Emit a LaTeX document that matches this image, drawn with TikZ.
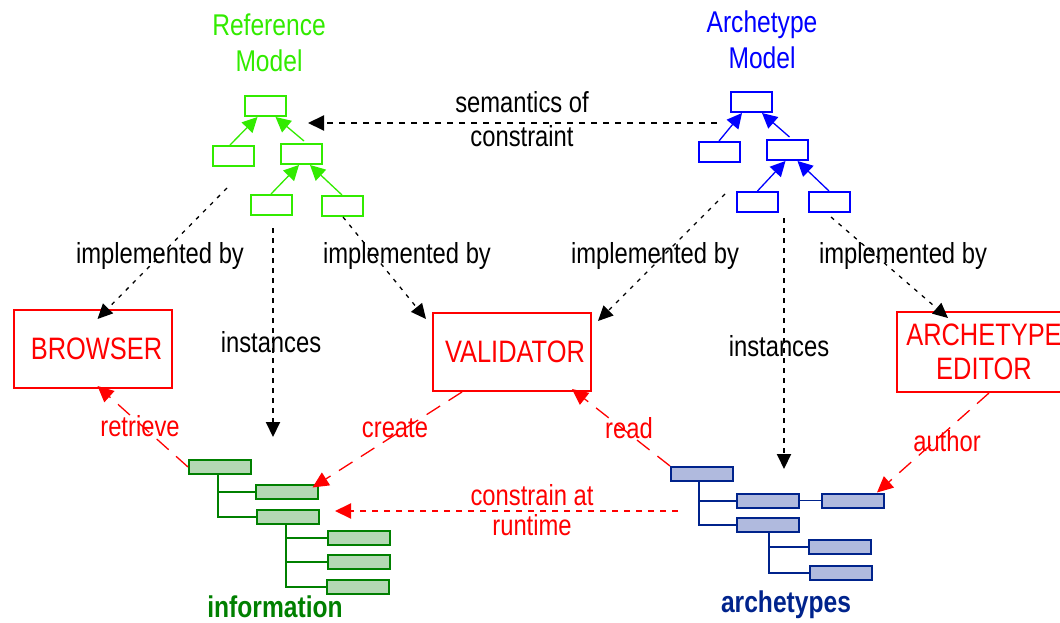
\documentclass[tikz,border=0pt]{standalone}
\usepackage{fontspec}
\setmainfont[FakeStretch=0.82]{Liberation Sans}
\usetikzlibrary{arrows.meta}
\definecolor{refgreen}{RGB}{50,235,0}
\definecolor{archblue}{RGB}{0,0,255}
\definecolor{toolred}{RGB}{255,0,0}
\definecolor{infogreen}{RGB}{0,128,0}
\definecolor{infofill}{RGB}{180,216,180}
\definecolor{archnavy}{RGB}{0,35,140}
\definecolor{archfill}{RGB}{176,186,222}
\begin{document}
\begin{tikzpicture}[x=1pt,y=-1pt,
  lbl/.style={font=\fontsize{29}{34}\selectfont, inner sep=0pt, align=center},
  title/.style={font=\fontsize{30}{36}\selectfont, inner sep=0pt, align=center},
  modelbox/.style={draw, line width=2pt, minimum width=41pt, minimum height=20pt, inner sep=0pt},
  rbox/.style={modelbox, draw=refgreen},
  abox/.style={modelbox, draw=archblue},
  inherit/.style={line width=1.3pt, -{Triangle[length=15pt,width=15pt]}},
  tool/.style={draw=toolred, line width=2pt, minimum width=158pt, minimum height=78pt,
    text=toolred, font=\fontsize{31}{34.5}\selectfont, align=center, inner sep=0pt},
  impl/.style={line width=1.3pt, dash pattern=on 4pt off 6pt, -{Triangle[length=15pt,width=14pt]}},
  inst/.style={line width=2pt, dash pattern=on 5pt off 5pt, -{Triangle[length=15pt,width=14pt]}},
  sem/.style={line width=2pt, dash pattern=on 6pt off 6pt, -{Triangle[length=16pt,width=15pt]}},
  useflow/.style={toolred, line width=1.3pt, dash pattern=on 16pt off 10pt, -{Triangle[length=16pt,width=15pt]}},
  rtflow/.style={toolred, line width=2pt, dash pattern=on 6pt off 6pt, -{Triangle[length=16pt,width=15pt]}},
  redlbl/.style={lbl, text=toolred},
  ibox/.style={draw=infogreen, fill=infofill, line width=2pt, minimum width=62pt, minimum height=14pt, inner sep=0pt},
  itree/.style={draw=infogreen, line width=2pt},
  xbox/.style={draw=archnavy, fill=archfill, line width=2pt, minimum width=62pt, minimum height=14pt, inner sep=0pt},
  xtree/.style={draw=archnavy, line width=2pt}
]
\useasboundingbox (0,0) rectangle (1060,623);

% ---------- reference model ----------
\node[title, text=refgreen] (rmtitle) at (269,43) {Reference\\Model};
\node[rbox] (r0) at (265.5,106) {};
\node[rbox] (r1) at (233,156) {};
\node[rbox] (r2) at (301,154) {};
\node[rbox] (r3) at (271,205) {};
\node[rbox] (r4) at (342,206) {};
\draw[inherit, refgreen] ([xshift=-3pt]r1.north) -- ([xshift=-8pt]r0.south);
\draw[inherit, refgreen] ([xshift=3pt,yshift=2pt]r2.north) -- ([xshift=10pt]r0.south);
\draw[inherit, refgreen] (r3.north) -- ([xshift=-2pt]r2.south);
\draw[inherit, refgreen] (r4.north) -- ([xshift=9pt]r2.south);

% ---------- archetype model ----------
\node[title, text=archblue] (amtitle) at (762,40) {Archetype\\Model};
\node[abox] (b0) at (751,102) {};
\node[abox] (b1) at (719,152) {};
\node[abox] (b2) at (787.5,150) {};
\node[abox] (b3) at (757.5,202) {};
\node[abox] (b4) at (829,202) {};
\draw[inherit, archblue] (b1.north) -- ([xshift=-9pt]b0.south);
\draw[inherit, archblue] ([xshift=2pt,yshift=2pt]b2.north) -- ([xshift=11pt]b0.south);
\draw[inherit, archblue] (b3.north) -- ([xshift=-2pt]b2.south);
\draw[inherit, archblue] (b4.north) -- ([xshift=10pt]b2.south);

% semantics of constraint
\coordinate (semS) at (717,123);
\coordinate (semE) at (308,123);
\draw[sem] (semS) -- (semE);
\node[lbl] (semlbl) at (522,119) {semantics of\\constraint};

% ---------- tools ----------
\node[tool] (browser) at (92.5,349) {\hspace*{8pt}BROWSER};
\node[tool] (validator) at (512,352) {\hspace*{6pt}VALIDATOR};
\node[tool, minimum width=174pt, minimum height=80pt] (editor) at (984,352) {ARCHETYPE\\EDITOR};

% ---------- information tree ----------
\node[ibox] (i1) at (220,467) {};
\node[ibox] (i2) at (286.5,491.5) {};
\node[ibox] (i3) at (287.5,516.5) {};
\node[ibox] (i4) at (358.5,537.5) {};
\node[ibox] (i5) at (358.5,562) {};
\node[ibox] (i6) at (358,586.5) {};
\draw[itree] ([xshift=-2pt]i1.south) |- (i2.west);
\draw[itree] ([xshift=-2pt]i1.south) |- (i3.west);
\draw[itree] ([xshift=-1.5pt]i3.south) |- (i4.west);
\draw[itree] ([xshift=-1.5pt]i3.south) |- (i5.west);
\draw[itree] ([xshift=-1.5pt]i3.south) |- (i6.west);
\node[font=\fontsize{30}{36}\selectfont\bfseries, text=infogreen, inner sep=0pt] (infolbl) at (275,607) {information};

% ---------- archetypes tree ----------
\node[xbox] (a1) at (702,474) {};
\node[xbox] (a2) at (768,500.5) {};
\node[xbox] (a3) at (853,500.5) {};
\node[xbox] (a4) at (768,525) {};
\node[xbox] (a5) at (839.5,547) {};
\node[xbox] (a6) at (841,572.5) {};
\draw[xtree] ([xshift=-3pt]a1.south) |- (a2.west);
\draw[xtree] ([xshift=-3pt]a1.south) |- (a4.west);
\draw[xtree, line width=1pt] (a2.east) -- (a3.west);
\draw[xtree] ([xshift=1pt]a4.south) |- (a5.west);
\draw[xtree] ([xshift=1pt]a4.south) |- (a6.west);
\node[font=\fontsize{30}{36}\selectfont\bfseries, text=archnavy, inner sep=0pt] (archlbl) at (786,605) {archetypes};

% ---------- implemented by ----------
\coordinate (imp1) at (227,188);
\coordinate (imp2) at (343,217);
\coordinate (imp3) at (725,194);
\coordinate (imp4) at (831,217);
\draw[impl] (imp1) -- ([xshift=5pt,yshift=-10pt]browser.north);
\draw[impl] (imp2) -- ([xshift=-86pt,yshift=-7pt]validator.north);
\draw[impl] (imp3) -- ([xshift=86pt,yshift=-9pt]validator.north);
\draw[impl] (imp4) -- ([xshift=-36pt,yshift=-7pt]editor.north);
\node[lbl] (il1) at (160,256) {implemented by};
\node[lbl] (il2) at (407,256) {implemented by};
\node[lbl] (il3) at (655,256) {implemented by};
\node[lbl] (il4) at (903,256) {implemented by};

% ---------- instances ----------
\coordinate (insA) at (273,228);
\coordinate (insAe) at (273,437);
\coordinate (insB) at (784,218);
\coordinate (insBe) at (784,469);
\draw[inst] (insA) -- (insAe);
\draw[inst] (insB) -- (insBe);
\node[lbl] (inl1) at (271,342) {instances};
\node[lbl] (inl2) at (779,346) {instances};

% ---------- tool usage ----------
\draw[useflow] (i1.west) -- ([xshift=5pt,yshift=3pt]browser.south);
\node[redlbl] (retr) at (140,426) {retrieve};
\draw[useflow] ([xshift=-50pt]validator.south) -- ([xshift=-6pt,yshift=-4pt]i2.north east);
\node[redlbl] (crea) at (395,428) {create};
\draw[useflow] (a1.north west) -- ([xshift=-20pt,yshift=3pt]validator.south east);
\node[redlbl] (rd) at (629,428) {read};
\draw[useflow] ([xshift=5pt]editor.south) -- ([xshift=-8pt]a3.north east);
\node[redlbl] (auth) at (947,441) {author};

% constrain at runtime
\coordinate (rtS) at (678,511);
\coordinate (rtE) at (335,511);
\draw[rtflow] (rtS) -- (rtE);
\node[redlbl, font=\fontsize{29}{30}\selectfont] (rtl) at (532,510) {constrain at\\runtime};
\end{tikzpicture}
\end{document}
